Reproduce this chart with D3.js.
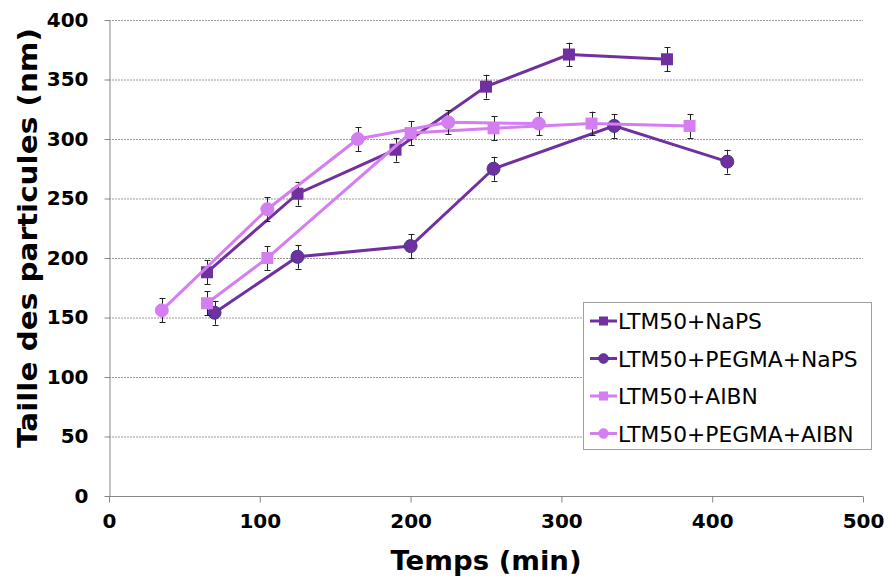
<!DOCTYPE html>
<html><head><meta charset="utf-8">
<script src="https://cdn.jsdelivr.net/npm/d3@7"></script>
<style>body{margin:0;background:#fff}svg{display:block}</style>
</head><body>
<svg id="c" width="889" height="578"></svg>
<script>
const seriesNames = ["LTM50+NaPS","LTM50+PEGMA+NaPS","LTM50+AIBN","LTM50+PEGMA+AIBN"];
const naps_t = [65,125,190,250,305,370];
const naps_v = [188,254,291,344,371,367];
const naps_e = [10,10,10,10,10,10];
const pegNaps_t = [70,125,200,255,335,410];
const pegNaps_v = [154,201,210,275,311,281];
const pegNaps_e = [10,10,10,10,10,10];
const aibn_t = [65,105,200,255,320,385];
const aibn_v = [162,200,305,309,313,311];
const aibn_e = [10,10,10,10,10,10];
const pegAibn_t = [35,105,165,225,285];
const pegAibn_v = [156,241,300,314,313];
const pegAibn_e = [10,10,10,10,10];
const xTicks = [0,100,200,300,400,500];
const yTicks = [0,50,100,150,200,250,300,350,400];

const dark = "#7030A0", light = "#D47EF2";
const series = [
  {name:seriesNames[0], t:naps_t, v:naps_v, e:naps_e, color:dark, shape:"square", stroke:dark},
  {name:seriesNames[1], t:pegNaps_t, v:pegNaps_v, e:pegNaps_e, color:dark, shape:"circle", stroke:"#3B3A8C"},
  {name:seriesNames[2], t:aibn_t, v:aibn_v, e:aibn_e, color:light, shape:"square", stroke:light},
  {name:seriesNames[3], t:pegAibn_t, v:pegAibn_v, e:pegAibn_e, color:light, shape:"circle", stroke:light}
];

const svg = d3.select("#c");
const L=109, R=863, T=20, B=496;
const x = d3.scaleLinear().domain([0,500]).range([L,R]);
const y = d3.scaleLinear().domain([0,400]).range([B,T]);

svg.append("g").selectAll("line").data(yTicks.filter(d=>d>0)).join("line")
  .attr("x1",L).attr("x2",R).attr("y1",d=>y(d)+0.5).attr("y2",d=>y(d)+0.5)
  .attr("stroke","#9a9a9a").attr("stroke-width",1).attr("stroke-dasharray","2,1");

const yAx = svg.append("g").attr("transform",`translate(${L+0.5},0)`)
  .call(d3.axisLeft(y).tickValues(yTicks).tickSize(5).tickPadding(16).tickSizeOuter(0));
const xAx = svg.append("g").attr("transform",`translate(0,${B+0.5})`)
  .call(d3.axisBottom(x).tickValues(xTicks).tickSize(6).tickPadding(11).tickSizeOuter(0));
[yAx,xAx].forEach(a=>{
  a.selectAll("path,line").attr("stroke","#868686");
  a.selectAll("text").attr("font-family","DejaVu Sans").attr("font-weight","bold")
   .attr("font-size",20).attr("fill","#000");
});
xAx.select(".domain").attr("d",`M${L},0H${R}`);

svg.append("text").attr("x",(L+R)/2).attr("y",570).attr("text-anchor","middle")
  .attr("font-family","DejaVu Sans").attr("font-weight","bold").attr("font-size",26)
  .attr("textLength",191).attr("lengthAdjust","spacingAndGlyphs").text("Temps (min)");
svg.append("text").attr("transform","translate(37,238) rotate(-90)").attr("text-anchor","middle")
  .attr("font-family","DejaVu Sans").attr("font-weight","bold").attr("font-size",27)
  .attr("textLength",420).attr("lengthAdjust","spacingAndGlyphs").text("Taille des particules (nm)");

const line = d3.line().x(d=>x(d[0])).y(d=>y(d[1]));
series.forEach(s=>{
  const pts = s.t.map((t,i)=>[t,s.v[i],s.e[i]]);
  const g = svg.append("g");
  g.append("path").attr("d",line(pts)).attr("fill","none").attr("stroke",s.color).attr("stroke-width",3);
  const eb = g.append("g").attr("stroke","#222").attr("stroke-width",1);
  pts.forEach(p=>{
    const cx=Math.round(x(p[0]))+0.5, y1=y(p[1]+p[2]), y2=y(p[1]-p[2]);
    eb.append("line").attr("x1",cx).attr("x2",cx).attr("y1",y1).attr("y2",y2);
    eb.append("line").attr("x1",cx-3).attr("x2",cx+3).attr("y1",Math.round(y1)+0.5).attr("y2",Math.round(y1)+0.5);
    eb.append("line").attr("x1",cx-3).attr("x2",cx+3).attr("y1",Math.round(y2)+0.5).attr("y2",Math.round(y2)+0.5);
  });
  if(s.shape==="square"){
    g.selectAll("rect").data(pts).join("rect")
      .attr("x",d=>x(d[0])-6).attr("y",d=>y(d[1])-6).attr("width",12).attr("height",12)
      .attr("fill",s.color);
  } else {
    g.selectAll("circle").data(pts).join("circle")
      .attr("cx",d=>x(d[0])).attr("cy",d=>y(d[1])).attr("r",6.5)
      .attr("fill",s.color).attr("stroke",s.stroke).attr("stroke-width",1);
  }
});

const lg = svg.append("g");
lg.append("rect").attr("x",583.5).attr("y",302.5).attr("width",288).attr("height",147)
  .attr("fill","#fff").attr("stroke","#a0a0a0").attr("stroke-width",1);
series.forEach((s,i)=>{
  const cy = 321 + i*37.5;
  lg.append("line").attr("x1",590).attr("x2",617).attr("y1",cy).attr("y2",cy)
    .attr("stroke",s.color).attr("stroke-width",3);
  if(s.shape==="square") lg.append("rect").attr("x",599).attr("y",cy-4.5).attr("width",9).attr("height",9).attr("fill",s.color);
  else lg.append("circle").attr("cx",603.5).attr("cy",cy).attr("r",4.8).attr("fill",s.color).attr("stroke",s.stroke);
  lg.append("text").attr("x",618).attr("y",cy+8).attr("font-family","DejaVu Sans")
    .attr("font-size",21.8).attr("fill","#000").text(s.name);
});
</script>
</body></html>
